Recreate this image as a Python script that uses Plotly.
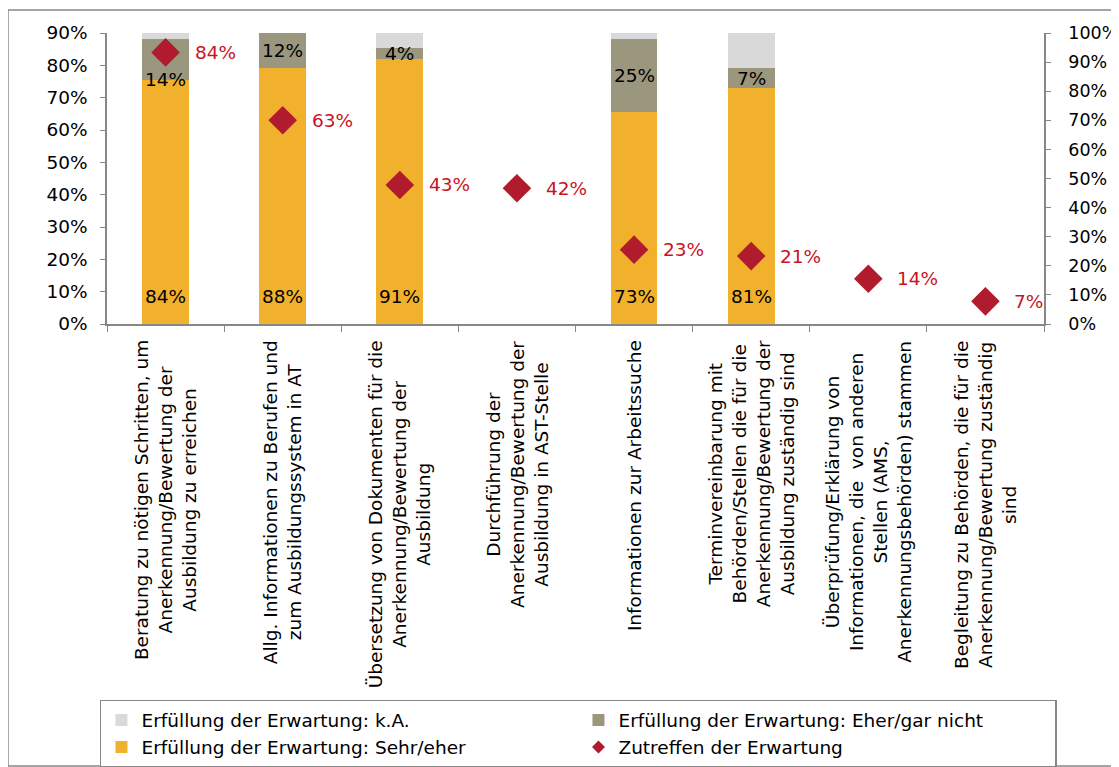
import plotly.graph_objects as go

categories = [
    "Beratung zu nötigen Schritten, um<br>Anerkennung/Bewertung der<br>Ausbildung zu erreichen",
    "Allg. Informationen zu Berufen und<br>zum Ausbildungssystem in AT",
    "Übersetzung von Dokumenten für die<br>Anerkennung/Bewertung der<br>Ausbildung",
    "Durchführung der<br>Anerkennung/Bewertung der<br>Ausbildung in AST-Stelle",
    "Informationen zur Arbeitssuche",
    "Terminvereinbarung mit<br>Behörden/Stellen die für die<br>Anerkennung/Bewertung der<br>Ausbildung zuständig sind",
    "Überprüfung/Erklärung von<br>Informationen, die  von anderen<br>Stellen (AMS,<br>Anerkennungsbehörden) stammen",
    "Begleitung zu Behörden, die für die<br>Anerkennung/Bewertung zuständig<br>sind",
]
sehr_eher = [84, 88, 91, None, 73, 81, None, None]
eher_gar_nicht = [14, 12, 4, None, 25, 7, None, None]
k_a = [2, 0, 5, None, 2, 12, None, None]
zutreffen = [84, 63, 43, 42, 23, 21, 14, 7]
grey_label_pos = [0.0, 0.5, 0.5, None, 0.5, 0.5, None, None]

left_ticks = list(range(0, 91, 10))
right_ticks = list(range(0, 101, 10))

C_ORANGE = "#F2B12C"
C_GREY = "#9B967E"
C_LIGHT = "#D9D9D9"
C_DIAMOND = "#B01C2E"
C_RED = "#C8141E"
AXIS = "#878787"
FONT = "DejaVu Sans"
FS = 18.5

fig = go.Figure()
fig.add_trace(go.Bar(x=categories, y=sehr_eher, name="Erfüllung der Erwartung: Sehr/eher",
                     marker=dict(color=C_ORANGE, line=dict(width=0)), yaxis="y", legendrank=3))
fig.add_trace(go.Bar(x=categories, y=eher_gar_nicht, name="Erfüllung der Erwartung: Eher/gar nicht",
                     marker=dict(color=C_GREY, line=dict(width=0)), yaxis="y", legendrank=2))
fig.add_trace(go.Bar(x=categories, y=k_a, name="Erfüllung der Erwartung: k.A.",
                     marker=dict(color=C_LIGHT, line=dict(width=0)), yaxis="y", legendrank=1))
fig.add_trace(go.Scatter(x=categories, y=zutreffen, mode="markers", name="Zutreffen der Erwartung",
                         marker=dict(symbol="diamond", size=22, color=C_DIAMOND), yaxis="y2",
                         showlegend=False))
# legend-only entry with a small diamond like the original legend
fig.add_trace(go.Scatter(x=[None], y=[None], mode="markers", name="Zutreffen der Erwartung",
                         marker=dict(symbol="diamond", size=10, color=C_DIAMOND), yaxis="y2",
                         legendrank=4))

annotations = []
for i, c in enumerate(categories):
    if sehr_eher[i] is not None:
        annotations.append(dict(x=c, y=0, xref="x", yref="y", text=f"{sehr_eher[i]}%",
                                showarrow=False, yanchor="bottom", yshift=15,
                                font=dict(size=FS, color="black", family=FONT)))
    if eher_gar_nicht[i] is not None:
        yy = sehr_eher[i] + eher_gar_nicht[i] * grey_label_pos[i]
        annotations.append(dict(x=c, y=yy, xref="x", yref="y", text=f"{eher_gar_nicht[i]}%",
                                showarrow=False, yanchor="middle",
                                font=dict(size=FS, color="black", family=FONT)))
    annotations.append(dict(x=c, y=zutreffen[i], xref="x", yref="y2", text=f"{zutreffen[i]}%",
                            showarrow=False, xanchor="left", xshift=27, yanchor="middle",
                            font=dict(size=FS, color=C_RED, family=FONT)))
    annotations.append(dict(x=c, y=-0.05, xref="x", yref="paper", text=c, textangle=-90,
                            showarrow=False, xanchor="center", yanchor="top", align="center",
                            font=dict(size=FS, color="black", family=FONT)))

# page is drawn with an 8px body offset, so the figure is 8px smaller than the window
fig.update_layout(
    width=1111, height=759,
    margin=dict(l=99, r=75, t=25, b=443, autoexpand=False),
    paper_bgcolor="white", plot_bgcolor="white",
    barmode="stack", bargap=0.6,
    font=dict(family=FONT, size=FS, color="black"),
    xaxis=dict(type="category", range=[-0.5, 7.5], showticklabels=False, ticks="outside",
               tickson="boundaries", ticklen=6, tickcolor=AXIS, showline=True,
               linecolor=AXIS, linewidth=1.5, showgrid=False, zeroline=False),
    yaxis=dict(range=[0, 100], tickvals=right_ticks, ticktext=[f"{v}%" for v in right_ticks],
               side="right", ticks="outside", ticklen=5, tickcolor=AXIS,
               showline=True, linecolor=AXIS, linewidth=1.5, showgrid=False, zeroline=False,
               ticklabelstandoff=14, tickfont=dict(size=17.5)),
    yaxis2=dict(range=[0, 90], tickvals=left_ticks, ticktext=[f"{v}%" for v in left_ticks],
                overlaying="y", side="left", ticks="outside", ticklen=5, tickcolor=AXIS,
                showline=True, linecolor=AXIS, linewidth=1.5, showgrid=False, zeroline=False,
                ticklabelstandoff=9, tickfont=dict(size=FS)),
    legend=dict(orientation="h", x=-0.0075, y=-1.292, xanchor="left", yanchor="top",
                entrywidth=432, bordercolor=AXIS, borderwidth=1.5,
                font=dict(size=FS, family=FONT), itemwidth=30, tracegroupgap=0,
                traceorder="normal"),
    annotations=annotations,
    shapes=[dict(type="rect", xref="paper", yref="paper", x0=-0.1057, x1=1.079,
                 y0=-1.519, y1=1.079, line=dict(color=AXIS, width=1.5), layer="below")],
    showlegend=True,
)

fig.write_html("out.html")
